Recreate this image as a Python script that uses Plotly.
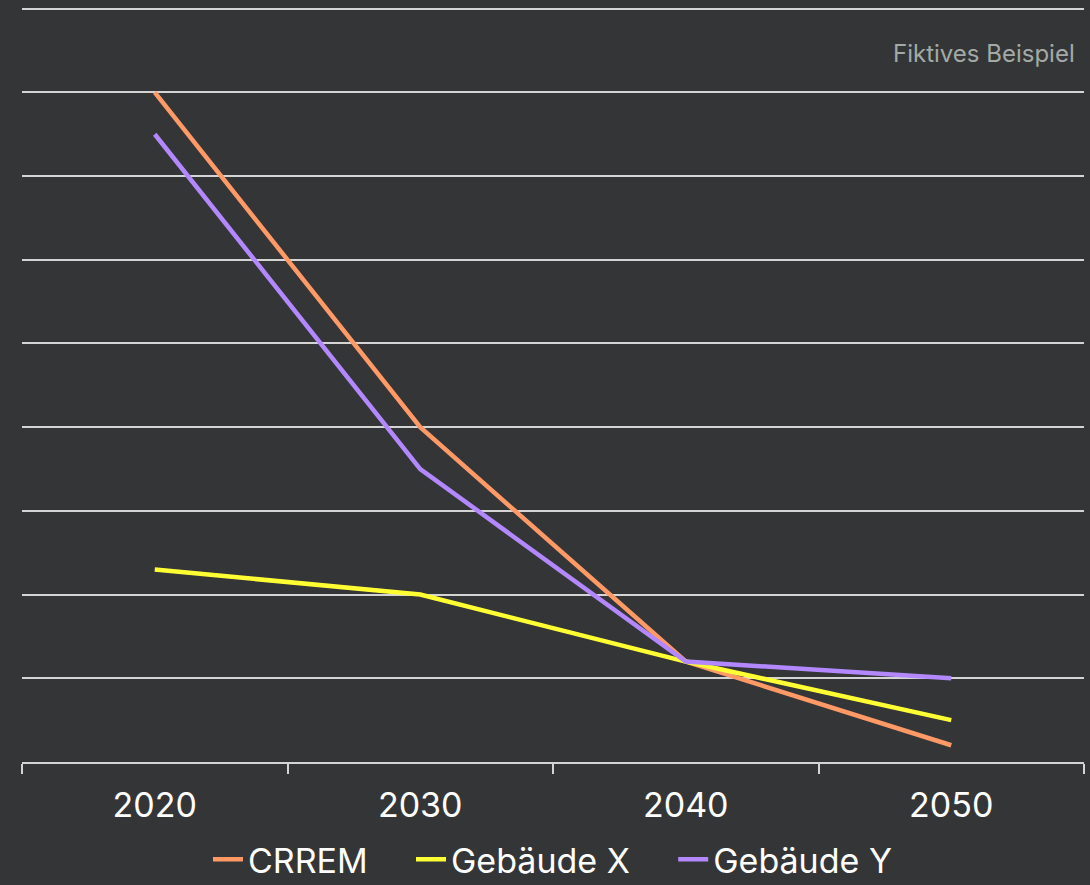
import plotly.graph_objects as go

# Emission pathways per year
years = ["2020", "2030", "2040", "2050"]
crrem = [8.0, 4.0, 1.2, 0.2]
gebaeude_x = [2.3, 2.0, 1.2, 0.5]
gebaeude_y = [7.5, 3.5, 1.2, 1.0]

series_names = ["CRREM", "Gebäude X", "Gebäude Y"]
series_colors = ["#FF9966", "#FFFF33", "#B388FF"]

BG = "#343537"
GRID = "#d4d4d4"
FONT = "Inter"
PAD = "\u00a0" * 4  # extra room between legend entries

fig = go.Figure()
for i, (name, vals, color) in enumerate(zip(series_names, [crrem, gebaeude_x, gebaeude_y], series_colors)):
    label = name + (PAD if i < len(series_names) - 1 else "")
    fig.add_trace(go.Scatter(
        x=years, y=vals, name=label, mode="lines",
        line=dict(color=color, width=4.5),
    ))

fig.update_layout(
    width=1090, height=885,
    paper_bgcolor=BG, plot_bgcolor=BG,
    margin=dict(l=22, r=6, t=7, b=123, autoexpand=False),
    font=dict(family=FONT, color="#ffffff", size=34),
    showlegend=True,
    legend=dict(
        orientation="h", x=0.5, xanchor="center", y=-0.091, yanchor="top",
        font=dict(size=34, color="#ffffff"), bgcolor="rgba(0,0,0,0)",
        itemwidth=30, tracegroupgap=0,
    ),
    xaxis=dict(
        type="category", range=[-0.5, 3.5], tickson="boundaries", showgrid=False,
        showline=True, linecolor=GRID, linewidth=2,
        ticks="outside", ticklen=10, tickwidth=2, tickcolor=GRID,
        tickfont=dict(size=34, color="#ffffff"), ticklabelstandoff=12,
        zeroline=False, fixedrange=True,
    ),
    yaxis=dict(
        range=[0, 9.02], dtick=1, showgrid=True, gridcolor=GRID, gridwidth=2,
        showticklabels=False, zeroline=False, showline=False, ticks="",
        fixedrange=True,
    ),
    annotations=[dict(
        text="Fiktives Beispiel", xref="paper", yref="paper",
        x=0.9934, y=0.939, xanchor="right", yanchor="middle", showarrow=False,
        font=dict(family=FONT, size=24, color="#a3aaa6"),
    )],
)

fig.write_html("out.html")
